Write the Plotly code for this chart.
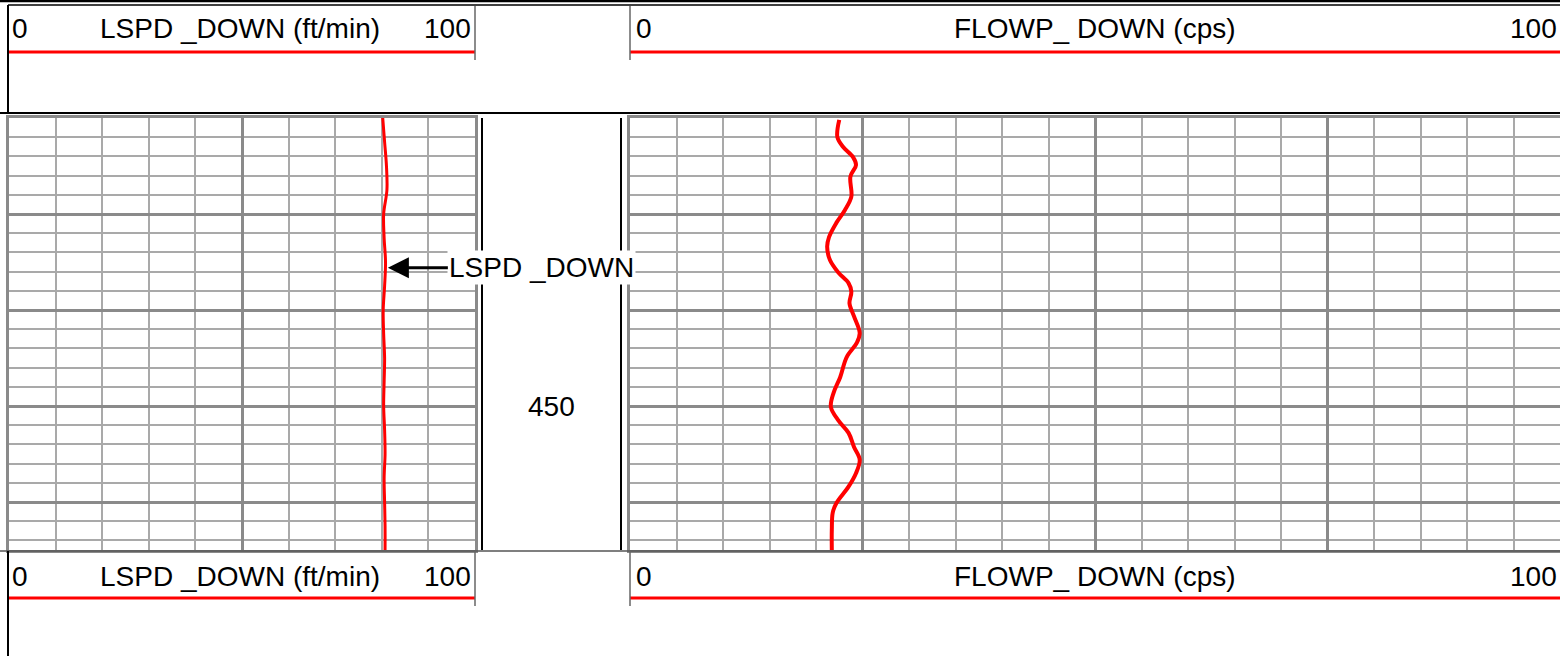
import plotly.graph_objects as go

W, H = 1560, 656

# ---------------- data ----------------
lspd_depth = [420, 422.5, 425, 427.5, 430, 432.5, 435, 437.5, 440, 442.5,
              445, 447.5, 450, 452.5, 455, 457.5, 460, 462.5, 465]
lspd_vals = [80.2, 80.6, 81.0, 81.1, 80.4, 80.5, 80.8, 80.6, 80.3, 80.4,
             80.6, 80.5, 80.4, 80.6, 80.7, 80.5, 80.6, 80.7, 80.7]

flowp_depth = [420.2, 422.0, 423.0, 424.1, 424.9, 426.1, 428.2, 429.6, 430.9,
               432.4, 433.4, 434.8, 436.1, 437.2, 438.1, 439.3, 440.7, 442.4,
               443.4, 444.9, 447.0, 448.6, 450.1, 451.5, 452.8, 454.3, 455.6,
               457.0, 458.4, 460.1, 461.1, 462.9, 465.0]
flowp_vals = [22.5, 22.3, 22.9, 24.0, 24.3, 23.7, 23.8, 23.1, 22.2,
              21.4, 21.2, 21.5, 22.4, 23.5, 23.8, 23.6, 24.1, 24.7,
              24.4, 23.3, 22.6, 21.9, 21.6, 22.4, 23.5, 24.1, 24.7,
              24.3, 23.5, 22.2, 21.8, 21.7, 21.7]

depth_range = [465, 420]
depth_labels = [450]
track1 = dict(name="LSPD _DOWN", unit="ft/min", lo=0, hi=100)
track2 = dict(name="FLOWP_ DOWN", unit="cps", lo=0, hi=100)
callout_depth = 435.6
callout_value = 81.3

# ---------------- helpers ----------------
def px(x):
    return x / W

def py(y):
    return 1 - y / H

FONT = "Liberation Sans, Arial, sans-serif"
FS = 28
RED = "#ff0000"
MAJ = "#8a8a8a"
MIN = "#a9a9a9"

fig = go.Figure()
fig.add_trace(go.Scatter(x=lspd_vals, y=lspd_depth, mode="lines",
                         line=dict(color=RED, width=3, shape="spline"),
                         xaxis="x", yaxis="y", hoverinfo="skip"))
fig.add_trace(go.Scatter(x=flowp_vals, y=flowp_depth, mode="lines",
                         line=dict(color=RED, width=4, shape="spline"),
                         xaxis="x2", yaxis="y2", hoverinfo="skip"))

ydom = [py(550), py(118)]

def xax(dom, rng, dtick, mdtick):
    return dict(domain=dom, range=rng, dtick=dtick, tick0=0,
                showgrid=True, gridcolor=MAJ, gridwidth=3,
                minor=dict(dtick=mdtick, tick0=0, showgrid=True,
                           gridcolor=MIN, gridwidth=2, ticks=""),
                showticklabels=False, ticks="", zeroline=False,
                showline=True, linecolor=MAJ, linewidth=3, mirror=True,
                fixedrange=True)

def yax(anchor, mirror=True):
    return dict(domain=ydom, range=depth_range, dtick=10, tick0=0,
                showgrid=True, gridcolor=MAJ, gridwidth=3,
                minor=dict(dtick=2, tick0=0, showgrid=True,
                           gridcolor=MIN, gridwidth=2, ticks=""),
                showticklabels=False, ticks="", zeroline=False,
                showline=True, linecolor=MAJ, linewidth=3, mirror=mirror,
                anchor=anchor, fixedrange=True)

fig.update_layout(
    width=W, height=H, margin=dict(l=0, r=0, t=0, b=0),
    paper_bgcolor="white", plot_bgcolor="white", showlegend=False,
    xaxis=xax([px(9), px(475)], [track1["lo"], track1["hi"]], 50, 10),
    xaxis2=xax([px(630), px(1560)], [track2["lo"], track2["hi"]], 25, 5),
    yaxis=yax("x"),
    yaxis2=dict(yax("x2", mirror=False), matches="y"),
)
fig.layout.xaxis.anchor = "y"
fig.layout.xaxis2.anchor = "y2"

shapes = []
def line(x0, y0, x1, y1, color="black", width=2):
    shapes.append(dict(type="line", xref="paper", yref="paper",
                       x0=px(x0), y0=py(y0), x1=px(x1), y1=py(y1),
                       line=dict(color=color, width=width), layer="above"))

# header frame
line(0, 1, W, 1, "black", 2.5)
line(8, 5, W, 5, "black", 1.5)
line(8, 5, 8, 113, "black", 2)
line(0, 113, W, 113, "black", 2)
# depth track black lines
line(482, 118, 482, 550, "black", 2)
line(621, 118, 621, 550, "black", 2)
# footer frame
line(0, 551, W, 551, "#555555", 1.5)
line(8, 551, 8, H, "black", 2)

annotations = []
def text(s, x, y, anchor):
    annotations.append(dict(text=s, x=px(x), y=py(y), xref="paper", yref="paper",
                            xanchor=anchor, yanchor="middle", showarrow=False,
                            font=dict(family=FONT, size=FS, color="black")))

for (yt, yr, ys0, ys1) in [(29, 52, 6, 60), (576, 598, 551, 606)]:
    # red scale lines
    line(9, yr, 475, yr, RED, 3)
    line(630, yr, W, yr, RED, 3)
    # gray separators
    line(475, ys0, 475, ys1, "#666666", 1.5)
    line(630, ys0, 630, ys1, "#666666", 1.5)
    text(str(track1["lo"]), 10, yt, "left")
    text(f'{track1["name"]} ({track1["unit"]})', 240, yt, "center")
    text(str(track1["hi"]), 473, yt, "right")
    text(str(track2["lo"]), 634, yt, "left")
    text(f'{track2["name"]} ({track2["unit"]})', 1095, yt, "center")
    text(str(track2["hi"]), 1559, yt, "right")

for d in depth_labels:
    annotations.append(dict(text=str(d), x=px(551), y=d, xref="paper", yref="y",
                            xanchor="center", yanchor="middle", showarrow=False,
                            font=dict(family=FONT, size=FS, color="black")))

annotations.append(dict(text=track1["name"], x=callout_value, y=callout_depth,
                        xref="x", yref="y", showarrow=True, ax=154, ay=0,
                        arrowhead=2, arrowsize=1.4, arrowwidth=3, arrowcolor="black",
                        bgcolor="white", borderpad=1,
                        font=dict(family=FONT, size=FS, color="black")))

fig.update_layout(shapes=shapes, annotations=annotations)
fig.write_html("out.html",
               config={"displayModeBar": False, "staticPlot": True},
               post_script="document.body.style.margin='0';"
                           "document.body.style.overflow='hidden';")
